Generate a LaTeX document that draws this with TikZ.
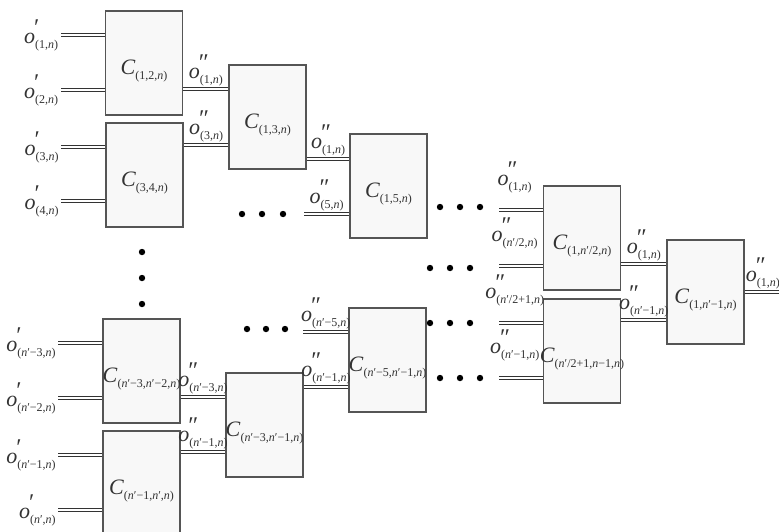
\documentclass[tikz,border=0pt]{standalone}
\usepackage{fontspec}
\usepackage{tikz}
\usetikzlibrary{calc,positioning}
\usepackage{xcolor}
\newfontfamily\tnr{Liberation Serif}
\definecolor{boxgray}{RGB}{85,85,85}
\definecolor{boxfill}{RGB}{248,248,248}
% labels: C with subscript, o with primes and subscript
\newcommand{\sbx}[1]{\raisebox{-0.5ex}{\fontsize{6}{7}\selectfont (#1)}}
\newcommand{\cc}[1]{\makebox[0pt]{\tnr\textit{C}\sbx{#1}}}
\newcommand{\oo}[2]{{\tnr\textit{o}\rlap{\raisebox{0.8ex}{\fontsize{12}{12}\selectfont\kern-0.5pt #1}}\sbx{#2}}}
\newcommand{\n}{\textit{n}}

\begin{document}
\begin{tikzpicture}[x=0.5pt, y=-0.5pt,
  every node/.style={font=\tnr\fontsize{11}{13}\selectfont, text=black!80},
  cbox/.style={draw=boxgray, fill=boxfill, line width=0.8pt, minimum width=38.5pt, minimum height=52pt, inner sep=0pt, text height=11pt, text depth=0pt},
  link/.style={draw=black!80, double=white, double distance=1pt, line width=0.5pt},
  lab/.style={midway, above=1pt, inner sep=0pt},
  uplab/.style={midway, above=8pt, xshift=-3pt, inner sep=0pt},
  inlab/.style={left, inner sep=1pt}]
\useasboundingbox (0,0) rectangle (779,531);

% first stage
\node[cbox] (b12) at (144,63) {\cc{1,2,\n}};
\node[cbox] (b34) at (144.5,175) {\cc{3,4,\n}};
\node[cbox] (bl1) at (141.5,371) {\cc{\n′−3,\n′−2,\n}};
\node[cbox] (bl2) at (141.5,483) {\cc{\n′−1,\n′,\n}};
% later stages
\node[cbox] (b13) at (267.5,117) {\cc{1,3,\n}};
\node[cbox] (bl3) at (264.5,425) {\cc{\n′−3,\n′−1,\n}};
\node[cbox] (b15) at (388.5,186) {\cc{1,5,\n}};
\node[cbox] (bl4) at (387.5,360) {\cc{\n′−5,\n′−1,\n}};
\node[cbox] (bh1) at (582,238) {\cc{1,\n′/2,\n}};
\node[cbox] (bh2) at (582,351) {\cc{\n′/2+1,\n−1,\n}};
\node[cbox] (bf) at (705.5,292) {\cc{1,\n′−1,\n}};

% inputs
\foreach \b/\y/\s in {b12/35/{1,\n}, b12/90/{2,\n}, b34/147/{3,\n}, b34/201/{4,\n},
    bl1/343/{\n′−3,\n}, bl1/398/{\n′−2,\n}, bl2/455/{\n′−1,\n}, bl2/510/{\n′,\n}}
  \draw[link] (\b.west |- 0,\y) -- ++(-44,0) node[inlab] {\oo{′}{\s}};

% box to box
\foreach \a/\b/\y/\s in {b12/b13/89/{1,\n}, b34/b13/145/{3,\n}, b13/b15/159/{1,\n},
    bl1/bl3/397/{\n′−3,\n}, bl2/bl3/452/{\n′−1,\n}, bl3/bl4/387/{\n′−1,\n},
    bh1/bf/264/{1,\n}, bh2/bf/320/{\n′−1,\n}}
  \draw[link] (\a.east |- 0,\y) -- (\b.west |- 0,\y) node[lab] {\oo{″}{\s}};

% inputs coming from the dots
\draw[link] (b15.west |- 0,214) -- ++(-45,0) node[lab] {\oo{″}{5,\n}};
\draw[link] (bl4.west |- 0,332) -- ++(-45,0) node[lab] {\oo{″}{\n′−5,\n}};
\foreach \b/\y/\s in {bh1/210/{1,\n}, bh1/266/{\n′/2,\n}, bh2/323/{\n′/2+1,\n}, bh2/378/{\n′−1,\n}}
  \draw[link] (\b.west |- 0,\y) -- ++(-44,0) node[uplab] {\oo{″}{\s}};

% output
\draw[link] (bf.east |- 0,292) -- ++(40,0) node[lab, xshift=-1pt] {\oo{″}{1,\n}};

% dots
\foreach \x/\y in {440/207, 460/207, 480/207, 430/268, 450/268, 470/268,
    430/323, 450/323, 470/323, 440/378, 460/378, 480/378,
    242/214, 262/214, 283/214, 247/329, 266/329, 285/329,
    142/252, 142/278, 142/304}
  \fill (\x,\y) circle (1.6pt);
\end{tikzpicture}
\end{document}
